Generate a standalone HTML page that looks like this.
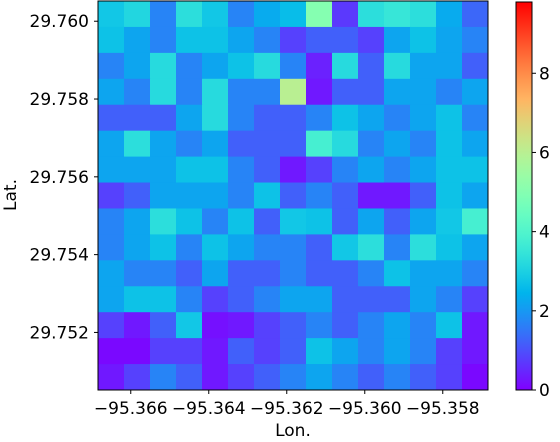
<!DOCTYPE html>
<html><head><meta charset="utf-8"><style>
body{margin:0;background:#fff;font-family:"DejaVu Sans","Liberation Sans",sans-serif}
svg text{font-family:"DejaVu Sans","Liberation Sans",sans-serif;fill:#000}
</style></head><body>
<svg id="c" width="560" height="438">
<defs><linearGradient id="cbg" x1="0" y1="1" x2="0" y2="0"></linearGradient></defs>
</svg>
<script>
const lonTicks=["−95.366","−95.364","−95.362","−95.360","−95.358"];
const lonTickVals=[-95.366,-95.364,-95.362,-95.360,-95.358];
const latTicks=["29.752","29.754","29.756","29.758","29.760"];
const latTickVals=[29.752,29.754,29.756,29.758,29.760];
const cbTicks=[0,2,4,6,8];
const lonRange=[-95.36684,-95.35684];
const latRange=[29.76052,29.75052];
const vmax=9.8;
const grid=[
[2.8,3.1,1.7,3.3,2.8,1.7,2.3,2.6,5,0.7,3.3,3.5,3.3,2.3,1.3],
[2.7,2.2,1.7,2.7,2.7,2.2,1.7,0.8,1.2,1.2,0.8,2.2,2.7,2.2,1.7],
[1.7,2.2,3.2,1.7,2.2,2.7,3.2,1.7,0.4,3.2,1.2,3.2,2.2,2.2,1.2],
[2.2,1.7,3.2,1.7,3.2,1.7,1.7,6,0.3,1.2,1.2,2.2,2.2,1.7,2.2],
[1.2,1.2,1.2,2.2,3.2,1.7,1.2,1.2,1.7,2.7,2.2,1.7,2.2,2.7,1.7],
[2.2,3.3,2.2,1.7,2.2,1.2,1.2,1.2,3.8,3.2,1.7,2.2,1.7,2.7,2.2],
[2.2,2.2,2.2,2.7,2.7,1.7,1.2,0.3,0.8,1.7,2.2,1.7,2.2,2.7,2.7],
[0.8,1.2,2.2,2.2,2.2,1.7,2.7,1.2,1.7,1.2,0.3,0.3,1.2,2.7,2.2],
[1.7,2.2,3.3,2.7,1.7,2.7,1.2,2.8,2.7,1.2,2.2,1.2,2.2,2.8,3.8],
[1.7,2.2,2.7,1.7,2.7,2.2,1.7,1.7,1.2,2.8,3.3,1.7,3.3,2.7,2.2],
[2.2,1.7,1.7,1.2,2.2,1.2,1.2,1.7,1.2,1.2,1.7,2.7,2.2,2.2,1.7],
[2.2,2.7,2.7,1.7,0.8,1.2,1.7,2.2,2.2,1.2,1.2,1.2,2.2,1.7,0.8],
[0.8,0.3,1.2,2.8,0.2,0.3,0.8,1.2,1.7,1.2,1.7,2.2,1.7,2.7,0.3],
[0.1,0.1,0.8,0.8,0.3,1.2,0.8,1.2,2.7,2.2,1.7,2.2,1.7,0.8,0.3],
[0.3,0.8,1.7,1.2,0.3,0.8,1.2,1.7,2.2,1.7,1.2,1.7,1.2,0.8,0.1]];
const P={x0:98,x1:488,y0:1,y1:390};
const NS="http://www.w3.org/2000/svg";
const svg=document.getElementById('c');
function xs(v){return P.x0+(v-lonRange[0])/(lonRange[1]-lonRange[0])*(P.x1-P.x0);}
function ys(v){return P.y0+(v-latRange[0])/(latRange[1]-latRange[0])*(P.y1-P.y0);}
function cb(v){return 390-v/vmax*388;}
function cmap(t){t=Math.max(0,Math.min(1,t));
 const r=Math.min(1,Math.abs(2*t-0.5)),g=Math.sin(Math.PI*t),b=Math.cos(Math.PI/2*t);
 return `rgb(${Math.round(r*255)},${Math.round(g*255)},${Math.round(b*255)})`;}
function mk(t,a){const e=document.createElementNS(NS,t);for(const k in a)e.setAttribute(k,a[k]);svg.appendChild(e);return e;}
const rows=grid.length,cols=grid[0].length;
const cw=(P.x1-P.x0)/cols,ch=(P.y1-P.y0)/rows;
for(let i=0;i<rows;i++)for(let j=0;j<cols;j++){
 const r=mk('rect',{x:P.x0+j*cw,y:P.y0+i*ch,width:cw+0.5,height:ch+0.5,fill:cmap(grid[i][j]/vmax)});
 
 
}
const fr=mk('rect',{x:P.x0,y:P.y0,width:P.x1-P.x0,height:P.y1-P.y0,fill:'none',stroke:'#000','stroke-width':1});


lonTickVals.forEach((v,i)=>{const x=xs(v);
 mk('line',{x1:x,x2:x,y1:P.y1,y2:P.y1+4,stroke:'#000'});
 const t=mk('text',{x:x,y:414,'text-anchor':'middle','font-size':17});t.textContent=lonTicks[i];
 
 
});
latTickVals.forEach((v,i)=>{const y=ys(v);
 mk('line',{x1:P.x0-4,x2:P.x0,y1:y,y2:y,stroke:'#000'});
 const t=mk('text',{x:89,y:y+6,'text-anchor':'end','font-size':17});t.textContent=latTicks[i];
 
 
});
const xl=mk('text',{x:293,y:436,'text-anchor':'middle','font-size':17});xl.textContent='Lon.';


const yl=mk('text',{x:16,y:195,'text-anchor':'middle','font-size':17,transform:'rotate(-90 16 195)'});yl.textContent='Lat.';


const g=document.getElementById('cbg');
for(let k=0;k<=20;k++){const s=document.createElementNS(NS,'stop');s.setAttribute('offset',k/20);s.setAttribute('stop-color',cmap(k/20));g.appendChild(s);}
const cbr=mk('rect',{x:516,y:2,width:16,height:388,fill:'url(#cbg)',stroke:'#000','stroke-width':1});


cbTicks.forEach(v=>{const y=cb(v);
 mk('line',{x1:532,x2:536,y1:y,y2:y,stroke:'#000'});
 const t=mk('text',{x:539,y:y+6,'font-size':17});t.textContent=v;
 
 
});
</script>
</body></html>
